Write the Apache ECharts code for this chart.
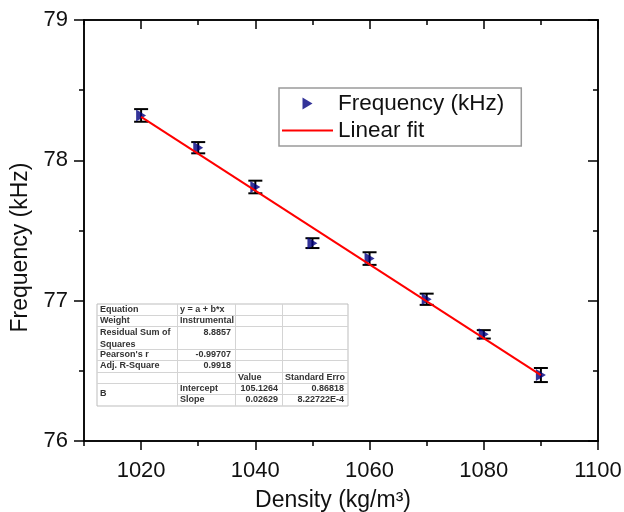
<!DOCTYPE html>
<html>
<head>
<meta charset="utf-8">
<script src="https://cdn.jsdelivr.net/npm/echarts@6/dist/echarts.min.js"></script>
<style>
html,body{margin:0;padding:0;background:#fff;}
#c{width:624px;height:512px;}
</style>
</head>
<body>
<div id="c"></div>
<script>
// ---- data ----
const densities = [1020, 1030, 1040, 1050, 1060, 1070, 1080, 1090];
const frequencies = [78.32, 78.09, 77.81, 77.41, 77.30, 77.01, 76.76, 76.47];
const errors = [0.045, 0.04, 0.045, 0.035, 0.045, 0.04, 0.03, 0.05];
const fitX = [1020, 1090];
const fitY = [78.31, 76.47];
const xMajorTicks = [1020, 1040, 1060, 1080, 1100];
const xMinorTicks = [1010, 1030, 1050, 1070, 1090];
const yMajorTicks = [76, 77, 78, 79];
const yMinorTicks = [76.5, 77.5, 78.5];
const tableRows = [
  ['Equation', 'y = a + b*x', '', ''],
  ['Weight', 'Instrumental', '', ''],
  ['Residual Sum of\nSquares', '8.8857', '', ''],
  ["Pearson's r", '-0.99707', '', ''],
  ['Adj. R-Square', '0.9918', '', ''],
  ['', '', 'Value', 'Standard Erro'],
  ['B', 'Intercept', '105.1264', '0.86818'],
  ['', 'Slope', '0.02629', '8.22722E-4']
];

const FONT = 'Liberation Sans, Arial, sans-serif';

function xAxisDef(pos, ticks, len, inside, labels) {
  return {
    type: 'value', min: 1010, max: 1100, position: pos, gridIndex: 0,
    axisLine: { show: true, onZero: false, lineStyle: { color: '#000', width: 1.5 } },
    axisTick: { show: true, customValues: ticks, length: len, inside: inside, lineStyle: { color: '#000', width: 1.5 } },
    axisLabel: labels ? { show: true, customValues: xMajorTicks, fontSize: 22, color: '#111', fontFamily: FONT, margin: 19,
      formatter: function (v) { return String(v); } } : { show: false },
    splitLine: { show: false }
  };
}
function yAxisDef(pos, ticks, len, inside, labels) {
  return {
    type: 'value', min: 76, max: 79, position: pos, gridIndex: 0,
    axisLine: { show: true, onZero: false, lineStyle: { color: '#000', width: 1.5 } },
    axisTick: { show: true, customValues: ticks, length: len, inside: inside, lineStyle: { color: '#000', width: 1.5 } },
    axisLabel: labels ? { show: true, customValues: yMajorTicks, fontSize: 22, color: '#111', fontFamily: FONT, margin: 16,
      formatter: function (v) { return String(v); } } : { show: false },
    splitLine: { show: false }
  };
}

const xAxes = [
  Object.assign(xAxisDef('bottom', xMajorTicks, 9, false, true), {
    name: 'Density (kg/m³)', nameLocation: 'middle', nameGap: 48,
    nameTextStyle: { fontSize: 23, color: '#111', fontFamily: FONT, padding: [0, 16, 0, 0] }
  }),
  xAxisDef('bottom', xMinorTicks, 5, false, false),
  xAxisDef('top', xMajorTicks, 9, true, false),
  xAxisDef('top', xMinorTicks, 5, true, false)
];
const yAxes = [
  Object.assign(yAxisDef('left', yMajorTicks, 10, false, true), {
    name: 'Frequency (kHz)', nameLocation: 'middle', nameGap: 41,
    nameTextStyle: { fontSize: 23, color: '#111', fontFamily: FONT, padding: [0, 34, 0, 0] }
  }),
  yAxisDef('left', yMinorTicks, 5, false, false),
  yAxisDef('right', yMajorTicks, 10, true, false),
  yAxisDef('right', yMinorTicks, 5, true, false)
];

// ---- table graphic ----
const colX = [97, 177, 235, 282, 348];
const rowY = [304, 315, 326, 349, 360, 372, 383, 394, 406];
function buildTable() {
  const els = [];
  const lineStyle = { stroke: '#d4d4d4', lineWidth: 1 };
  els.push({ type: 'rect', shape: { x: colX[0], y: rowY[0], width: colX[4] - colX[0], height: rowY[8] - rowY[0] },
    style: { fill: '#fff', stroke: '#bdbdbd', lineWidth: 1 }, z: 50 });
  for (let r = 1; r < rowY.length - 1; r++) {
    const startX = (r === 7) ? colX[1] : colX[0];
    els.push({ type: 'line', shape: { x1: startX, y1: rowY[r] + 0.5, x2: colX[4], y2: rowY[r] + 0.5 }, style: lineStyle, z: 51 });
  }
  for (let c = 1; c < 4; c++) {
    els.push({ type: 'line', shape: { x1: colX[c] + 0.5, y1: rowY[0], x2: colX[c] + 0.5, y2: rowY[8] }, style: lineStyle, z: 51 });
  }
  const ts = { fontSize: 9, fontWeight: 'bold', fontFamily: FONT, fill: '#333' };
  tableRows.forEach((row, r) => {
    row.forEach((txt, c) => {
      if (!txt) return;
      const numeric = /^-?[0-9.]+(E-?\d+)?$/.test(txt);
      let x, align;
      if (numeric) { x = colX[c + 1] - 4; align = 'right'; } else { x = colX[c] + 3; align = 'left'; }
      let y, vAlign = 'middle';
      if (r === 2) { y = rowY[2] + 1; vAlign = 'top'; }
      else if (r === 6 && c === 0) { y = rowY[7]; }
      else { y = (rowY[r] + rowY[r + 1]) / 2; }
      els.push({ type: 'text', x: x, y: y, z: 52,
        style: Object.assign({}, ts, { text: txt, align: align, verticalAlign: vAlign, lineHeight: 11.5 }) });
    });
  });
  return els;
}

const chart = echarts.init(document.getElementById('c'));
chart.setOption({
  animation: false,
  backgroundColor: '#fff',
  grid: { left: 84, right: 26, top: 20, bottom: 71, containLabel: false, outerBoundsMode: 'none' },
  xAxis: xAxes,
  yAxis: yAxes,
  legend: {
    orient: 'vertical', left: 279, top: 88,
    padding: [4, 17, 4, 3], itemGap: 4, itemWidth: 51, itemHeight: 12,
    borderColor: '#9a9a9a', borderWidth: 1.5, backgroundColor: '#fff',
    textStyle: { fontSize: 22.5, color: '#111', fontFamily: FONT },
    data: [
      { name: 'Frequency (kHz)', icon: 'path://M0,0L10,6L0,12Z' },
      { name: 'Linear fit', icon: 'path://M0,0L51,0L51,2.2L0,2.2Z' }
    ]
  },
  graphic: buildTable(),
  series: [
    {
      type: 'custom', name: 'err', z: 3,
      data: densities.map((d, i) => [d, frequencies[i], errors[i]]),
      renderItem: function (params, api) {
        const x = api.value(0), y = api.value(1), e = api.value(2);
        const t = api.coord([x, y + e]), b = api.coord([x, y - e]);
        const w = 7;
        const st = { stroke: '#000', lineWidth: 2 };
        return { type: 'group', children: [
          { type: 'line', shape: { x1: t[0], y1: t[1], x2: b[0], y2: b[1] }, style: st },
          { type: 'line', shape: { x1: t[0] - w, y1: t[1], x2: t[0] + w, y2: t[1] }, style: st },
          { type: 'line', shape: { x1: b[0] - w, y1: b[1], x2: b[0] + w, y2: b[1] }, style: st }
        ] };
      }
    },
    {
      type: 'scatter', name: 'Frequency (kHz)', z: 4,
      symbol: 'path://M0,0L10,6L0,12Z', symbolSize: [10, 12],
      itemStyle: { color: '#000080' },
      data: densities.map((d, i) => [d, frequencies[i]])
    },
    {
      type: 'line', name: 'Linear fit', z: 5,
      symbol: 'none', showSymbol: false,
      lineStyle: { color: '#ff0000', width: 2 },
      itemStyle: { color: '#ff0000' },
      data: fitX.map((x, i) => [x, fitY[i]])
    }
  ]
});
</script>
</body>
</html>
